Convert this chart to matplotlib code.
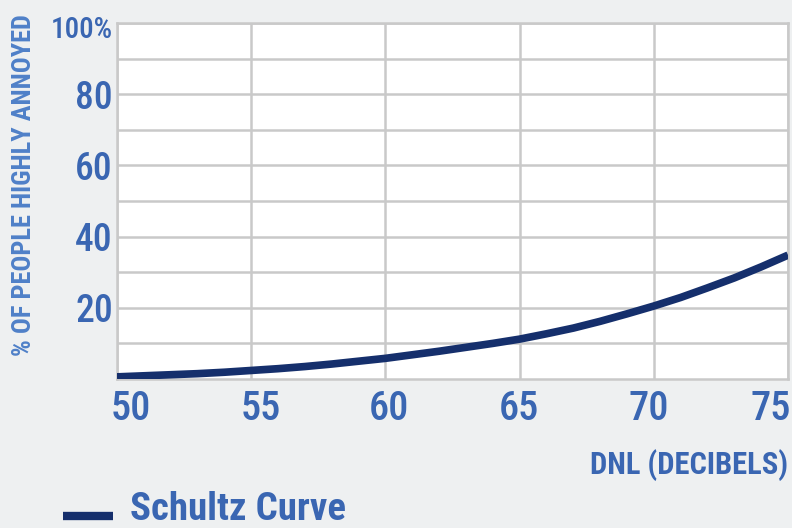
import matplotlib
matplotlib.use("Agg")
import matplotlib.pyplot as plt
from matplotlib import font_manager
from matplotlib.transforms import ScaledTranslation

# Data
dnl = [50, 51, 52, 53, 54, 55, 56, 57, 58, 59, 60, 61, 62, 63, 64, 65,
       66, 67, 68, 69, 70, 71, 72, 73, 74, 75]
pct_annoyed = [0.6, 0.9, 1.2, 1.5, 1.9, 2.4, 2.9, 3.5, 4.2, 5.0, 5.8, 6.8,
               7.8, 8.9, 10.0, 11.2, 12.7, 14.3, 16.2, 18.3, 20.5, 22.9,
               25.6, 28.4, 31.5, 34.8]
x_ticks = [50, 55, 60, 65, 70, 75]
y_ticks = [20, 40, 60, 80, 100]
y_tick_labels = ["20", "40", "60", "80", "100%"]
series_name = "Schultz Curve"
x_label = "DNL (DECIBELS)"
y_label = "% OF PEOPLE HIGHLY ANNOYED"

names = {f.name for f in font_manager.fontManager.ttflist}
narrow = "DejaVu Sans"
for cand in ["Roboto Condensed", "Archivo Narrow", "Liberation Sans Narrow",
             "PT Sans Narrow", "Fira Sans Condensed", "Barlow Condensed",
             "IBM Plex Sans Condensed", "Encode Sans Condensed", "Oswald"]:
    if cand in names:
        narrow = cand
        break

bg = "#eef0f1"
blue = "#3a66b2"
light_blue = "#4f80c8"
navy = "#152f6c"
grid_c = "#c9c9c9"

fig = plt.figure(figsize=(7.92, 5.28), dpi=100, facecolor=bg)
ax = fig.add_axes([0.1477, 0.2822, 0.8473, 0.6742])
ax.set_facecolor("white")

ax.plot(dnl, pct_annoyed, color=navy, lw=5.5, solid_capstyle="butt",
        solid_joinstyle="round", zorder=3)

ax.set_xlim(50, 75)
ax.set_ylim(0, 100)
ax.set_xticks(x_ticks)
ax.set_yticks(y_ticks)
ax.set_yticklabels(y_tick_labels)
ax.set_yticks(range(10, 100, 10), minor=True)
ax.grid(True, which="both", color=grid_c, lw=1.8)
ax.tick_params(which="both", length=0)
ax.tick_params(axis="x", pad=8, labelsize=29, labelcolor=blue)
ax.tick_params(axis="y", pad=3, labelsize=27, labelcolor=blue)
for lab in ax.get_xticklabels() + ax.get_yticklabels():
    lab.set_family(narrow)
    lab.set_fontweight("medium")
ax.get_yticklabels()[-1].set_fontsize(21)
# x tick labels squeezed inwards as in the reference
x_shift_px = [14, 10, 4, -1, -5, -17]
for lab, dx in zip(ax.get_xticklabels(), x_shift_px):
    lab.set_transform(lab.get_transform() + ScaledTranslation(dx / 100, 0, fig.dpi_scale_trans))
ylab_last = ax.get_yticklabels()[-1]
ylab_last.set_transform(ylab_last.get_transform() + ScaledTranslation(0, -4 / 100, fig.dpi_scale_trans))

for s in ax.spines.values():
    s.set_color(grid_c)
    s.set_linewidth(1.8)
ax.set_axisbelow(True)

fig.text(0.030, 1 - 185 / 528, y_label, rotation=90,
         ha="center", va="center", color=light_blue, fontsize=19,
         fontweight="bold", family=narrow)
fig.text(0.995, 1 - 465 / 528, x_label, ha="right", va="center",
         color=blue, fontsize=22, fontweight="bold", family=narrow)

fig.lines.append(plt.Line2D([63 / 792, 113 / 792], [1 - 516 / 528] * 2,
                            transform=fig.transFigure, color=navy, lw=6,
                            solid_capstyle="butt"))
fig.text(130 / 792, 1 - 520 / 528, series_name, ha="left", va="baseline",
         color=blue, fontsize=28, fontweight="bold", family=narrow)

fig.savefig("out.png", dpi=100, facecolor=bg)
